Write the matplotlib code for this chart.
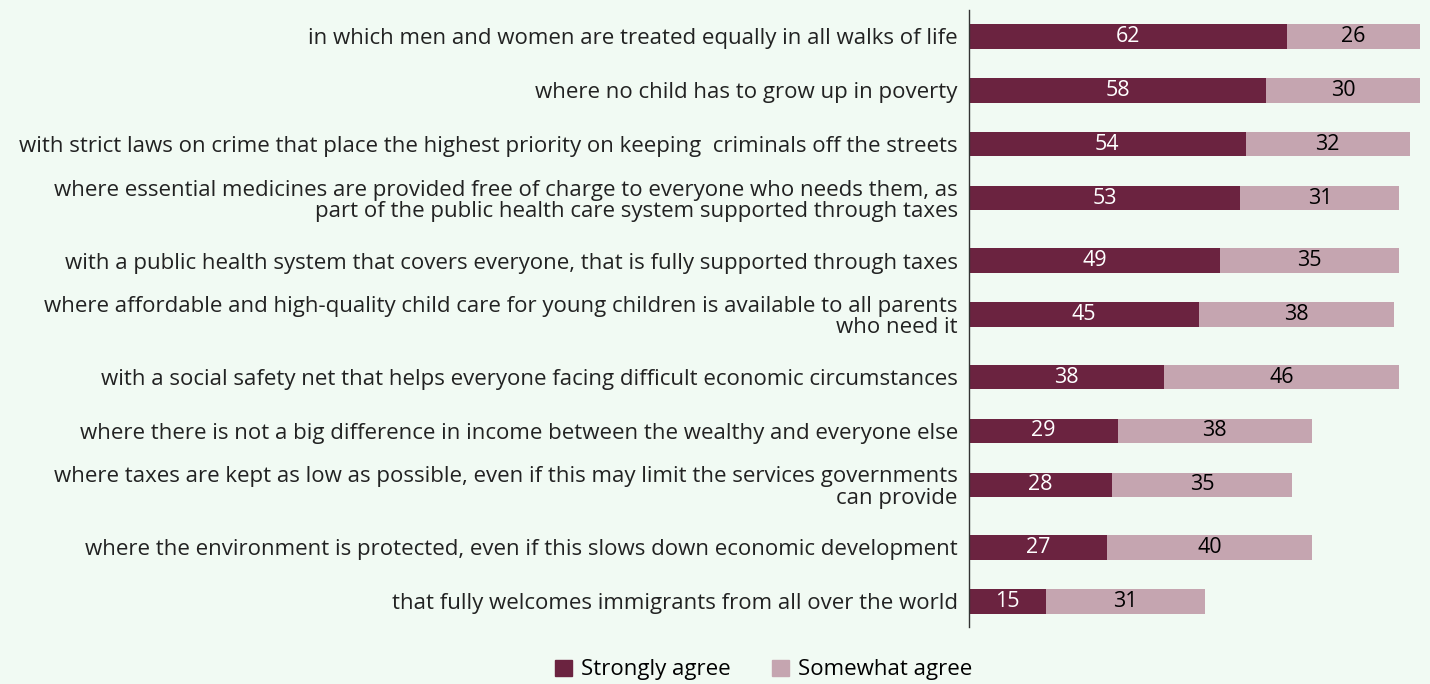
import matplotlib
matplotlib.use("Agg")
from matplotlib import pyplot as plt
from matplotlib.patches import Patch
import numpy as np

plt.rcParams['font.family'] = ['Open Sans', 'DejaVu Sans']

statements = [
    "in which men and women are treated equally in all walks of life",
    "where no child has to grow up in poverty",
    "with strict laws on crime that place the highest priority on keeping  criminals off the streets",
    "where essential medicines are provided free of charge to everyone who needs them, as\npart of the public health care system supported through taxes",
    "with a public health system that covers everyone, that is fully supported through taxes",
    "where affordable and high-quality child care for young children is available to all parents\nwho need it",
    "with a social safety net that helps everyone facing difficult economic circumstances",
    "where there is not a big difference in income between the wealthy and everyone else",
    "where taxes are kept as low as possible, even if this may limit the services governments\ncan provide",
    "where the environment is protected, even if this slows down economic development",
    "that fully welcomes immigrants from all over the world",
]
strongly = [62, 58, 54, 53, 49, 45, 38, 29, 28, 27, 15]
somewhat = [26, 30, 32, 31, 35, 38, 46, 38, 35, 40, 31]

dark = '#6b2340'
light = '#c5a5b0'
bg = '#f1faf3'

# rows with a wrapped label get a little more room below them
extra = [s.count('\n') for s in statements]
gaps = [1 + 0.158 * e for e in extra[:-1]]
ypos = np.concatenate([[0], np.cumsum(gaps)])

fig = plt.figure(figsize=(14.3, 6.84), dpi=100, facecolor=bg)
ax = fig.add_axes([0.6776, 0.0838, 0.3224, 0.9016])
ax.set_facecolor(bg)

h = 0.456
ax.barh(ypos, strongly, height=h, color=dark)
ax.barh(ypos, somewhat, left=strongly, height=h, color=light)

for y, s, w in zip(ypos, strongly, somewhat):
    ax.text(s / 2, y, str(s), ha='center', va='center', color='white', fontsize=15.5)
    ax.text(s + w / 2, y, str(w), ha='center', va='center', color='black', fontsize=15.5)

ax.set_xlim(0, 90)
ax.set_ylim(ypos[-1] + 0.47, -0.488)
ax.set_yticks(ypos)
ax.set_yticklabels(statements, fontsize=16, color='#222222', linespacing=1.02)
ax.tick_params(axis='y', length=0, pad=8)
ax.set_xticks([])
for side in ['top', 'right', 'bottom']:
    ax.spines[side].set_visible(False)
ax.spines['left'].set_color('#333333')
ax.spines['left'].set_linewidth(1.0)

handles = [Patch(color=dark, label='Strongly agree'), Patch(color=light, label='Somewhat agree')]
fig.legend(handles=handles, loc='center', bbox_to_anchor=(0.534, 0.0205), ncol=2, frameon=False,
           fontsize=16, handlelength=0.75, handleheight=0.75, handletextpad=0.4, columnspacing=1.9,
           borderpad=0)

fig.savefig('out.png', dpi=100, facecolor=bg)
